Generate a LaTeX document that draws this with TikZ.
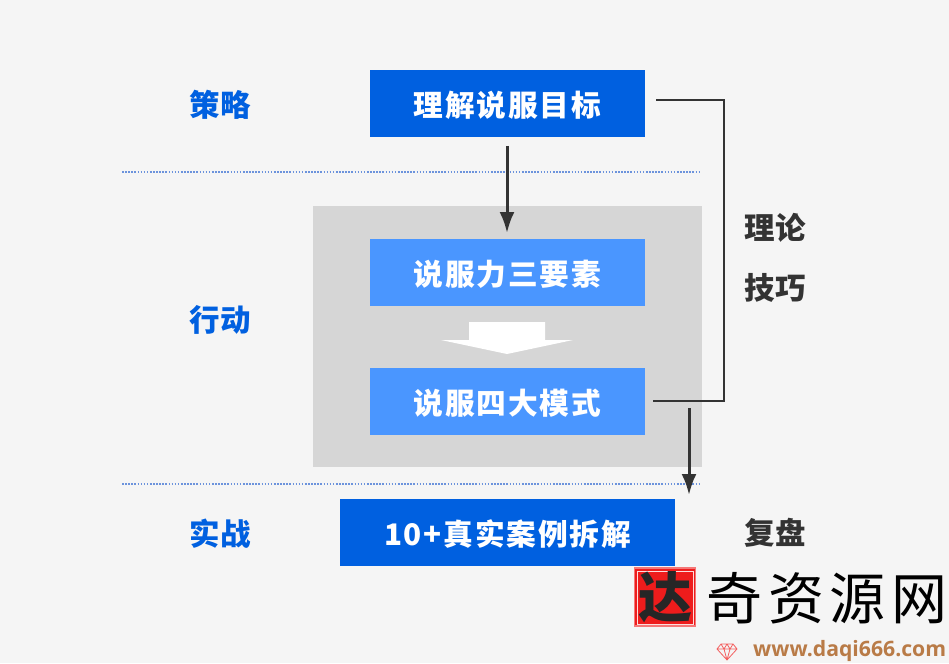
\documentclass[tikz,border=0pt]{standalone}
\usepackage{fontspec}
\setmainfont{Noto Sans CJK SC}
\newfontfamily\cjkbox[LetterSpace=6]{Noto Sans CJK SC}
\newfontfamily\urlfont{Open Sans}
\usetikzlibrary{arrows.meta, positioning}
\definecolor{pagegray}{HTML}{F5F5F5}
\definecolor{panelgray}{HTML}{D6D6D6}
\definecolor{deepblue}{HTML}{0060E0}
\definecolor{liteblue}{HTML}{4A96FF}
\definecolor{inkgray}{HTML}{333333}
\definecolor{dotblue}{HTML}{6C93DC}
\definecolor{urlbrown}{HTML}{B97B47}
\definecolor{sealred}{HTML}{EE1C1C}
\tikzstyle{block} = [fill=deepblue, rectangle, inner sep=0pt, text=white, minimum height=67pt, text height=29pt, text depth=3pt, font=\cjkbox\fontsize{29.7}{30}\selectfont\bfseries]
\tikzstyle{lite} = [block, fill=liteblue, minimum width=275pt]
\tikzstyle{stage} = [text=deepblue, font=\fontsize{30.5}{31}\selectfont\bfseries]
\tikzstyle{note} = [text=inkgray, font=\fontsize{30.5}{31}\selectfont\bfseries]
\tikzstyle{divider} = [dotblue, line width=1.8pt, dash pattern=on 1.6pt off 1.5pt]
\tikzstyle{flow} = [inkgray, line width=3pt, -{Latex[length=21pt,width=15pt]}]
\tikzstyle{brace} = [inkgray, line width=2pt]

\begin{document}
\begin{tikzpicture}[x=1pt,y=-1pt]
      \useasboundingbox (0,0) rectangle (949,663);
      \fill[pagegray] (0,0) rectangle (949,663);
      \node[fill=panelgray, minimum width=389pt, minimum height=261pt, inner sep=0pt] (P) at (507.5,336.5) {};
      \draw[divider] (122,172) coordinate (d1) -- (700,172) coordinate (d2);
      \draw[divider] (122,484) coordinate (d3) -- (700,484) coordinate (d4);
      \node[block, minimum width=275pt] (T) at (507.5,103.5) {理解说服目标};
      \node[lite, below of=T, node distance=169pt] (R) {说服力三要素};
      \node[lite, below of=R, node distance=129pt] (S) {说服四大模式};
      \node[block, minimum width=335pt, below of=S, node distance=131pt] (C) {10+真实案例拆解};
      \node[stage] (a) at (220,105) {策略};
      \node[stage] (b) at (220,320) {行动};
      \node[stage] (c) at (220,534) {实战};
      \node[note] (x) at (775,228) {理论};
      \node[note, below of=x, node distance=60pt] (y) {技巧};
      \node[note] (z) at (775,533) {复盘};
      \fill[white] (469,322) -- (545,322) -- (545,340) -- (573,340) -- (507,354) -- (441,340) -- (469,340) -- cycle;
      \coordinate (t1) at (507,146);
      \coordinate (t2) at (507,233);
      \draw[flow] (t1) -- (t2);
      \coordinate (s1) at (689,408);
      \coordinate (s2) at (689,495);
      \draw[flow] (s1) -- (s2);
      \coordinate (u1) at (656,100);
      \coordinate (u2) at (723.5,100);
      \coordinate (u3) at (723.5,401);
      \coordinate (u4) at (653,401);
      \draw[brace] (u1) -- (u2) -- (u3) -- (u4);
      % seal and site name
      \node[fill=sealred, draw=sealred!60, line width=1.5pt, minimum width=61pt, minimum height=58pt, inner sep=0pt] (L) at (665,597) {};
      \draw[white!85!sealred, line width=.8pt] (637,571) rectangle (693,624);
      \node[text=black!85, font=\fontsize{54}{54}\selectfont\bfseries] (L2) at (665,597) {达};
      \node[text=black, font=\fontsize{56}{56}\selectfont] (N) at (827,598) {奇\hspace{6pt}资\hspace{6pt}源\hspace{6pt}网};
      \draw[sealred!70, line width=.8pt, line join=round] (717,649) -- (721,644) -- (733,644) -- (737,649) -- (727,660) -- cycle (717,649) -- (737,649) (721,644) -- (724,649) -- (727,644) -- (730,649) -- (733,644) (724,649) -- (727,660) -- (730,649);
      \node[text=urlbrown, font=\urlfont\fontsize{21.2}{21.2}\selectfont\bfseries, anchor=west, inner sep=0pt] (W) at (753,651) {www.daqi666.com};
    \end{tikzpicture}
\end{document}
